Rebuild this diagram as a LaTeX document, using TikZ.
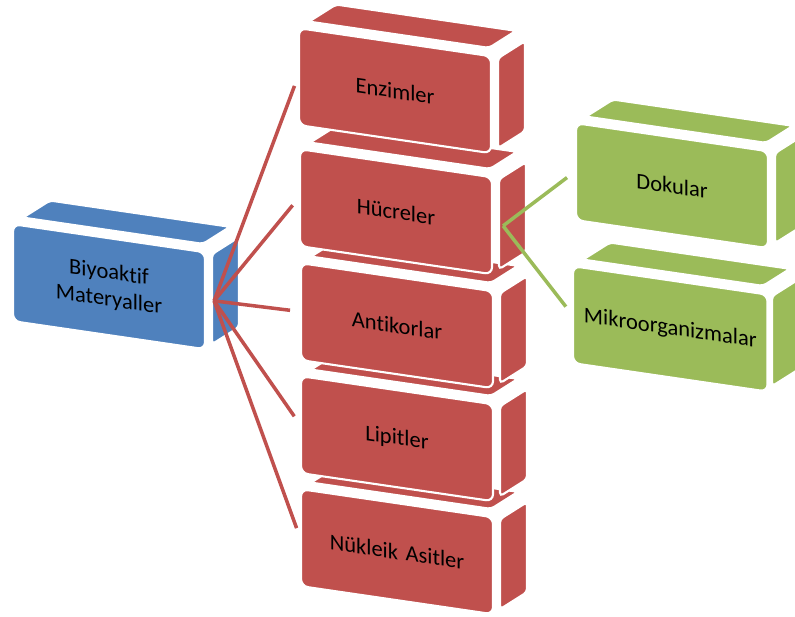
\documentclass[tikz,border=0pt]{standalone}
\usepackage{fontspec}
\setmainfont{Carlito}[Ligatures=NoCommon]
\usetikzlibrary{arrows}

\definecolor{bioblue}{HTML}{4F81BD}
\definecolor{brick}{HTML}{C0504D}
\definecolor{leaf}{HTML}{9BBB59}

\begin{document}
\begin{tikzpicture}[x=0.02cm, y=-0.02cm]
    \tikzstyle{every node}=[font=\fontsize{12.8}{15.5}\selectfont]
    \tikzstyle{front} = [rectangle, draw=white, line width=1.2pt, rounded corners=4pt, minimum width=3.84cm, minimum height=1.94cm, text width=3.6cm, text centered, inner sep=2pt, anchor=north west, transform shape]
    \tikzstyle{side}  = [draw=white, line width=1.2pt, rounded corners=2pt]
    \tikzstyle{line}  = [draw, line width=2pt, shorten >=0.2cm]

    \path [use as bounding box, clip] (0,0) rectangle (795,617);

    % Biyoaktif materyaller:
    \begin{scope}[shift={(12,223)}, yslant=-0.146]
      \path [side, fill=bioblue] (11,-7) -- (191,-7) -- (218,-28) -- (38,-28) -- cycle;
      \path [side, fill=bioblue] (200,2) -- (227,-19) -- (227,71) -- (200,92) -- cycle;
      \node [front, fill=bioblue] (bio) at (0,0) {Biyoaktif\\Materyaller};
    \end{scope}

    % Red column, drawn from the bottom up:
    \begin{scope}[shift={(300,488)}, yslant=-0.146]
      \path [side, fill=brick] (11,-7) -- (191,-7) -- (218,-28) -- (38,-28) -- cycle;
      \path [side, fill=brick] (200,2) -- (227,-19) -- (227,71) -- (200,92) -- cycle;
      \node [front, fill=brick] (nukleik) at (0,0) {Nükleik Asitler};
    \end{scope}
    \begin{scope}[shift={(300,375)}, yslant=-0.146]
      \path [side, fill=brick] (11,-7) -- (191,-7) -- (218,-28) -- (38,-28) -- cycle;
      \path [side, fill=brick] (200,2) -- (227,-19) -- (227,71) -- (200,92) -- cycle;
      \node [front, fill=brick] (lipit) at (0,0) {Lipitler};
    \end{scope}
    \begin{scope}[shift={(300,262)}, yslant=-0.146]
      \path [side, fill=brick] (11,-7) -- (191,-7) -- (218,-28) -- (38,-28) -- cycle;
      \path [side, fill=brick] (200,2) -- (227,-19) -- (227,71) -- (200,92) -- cycle;
      \node [front, fill=brick] (antikor) at (0,0) {Antikorlar};
    \end{scope}
    \begin{scope}[shift={(299,148)}, yslant=-0.146]
      \path [side, fill=brick] (11,-7) -- (191,-7) -- (218,-28) -- (38,-28) -- cycle;
      \path [side, fill=brick] (200,2) -- (227,-19) -- (227,71) -- (200,92) -- cycle;
      \node [front, fill=brick] (hucre) at (0,0) {Hücreler};
    \end{scope}
    \begin{scope}[shift={(298,27)}, yslant=-0.146]
      \path [side, fill=brick] (11,-7) -- (191,-7) -- (218,-28) -- (38,-28) -- cycle;
      \path [side, fill=brick] (200,2) -- (227,-19) -- (227,71) -- (200,92) -- cycle;
      \node [front, fill=brick] (enzim) at (0,0) {Enzimler};
    \end{scope}

    % Green pair:
    \begin{scope}[shift={(572,265)}, yslant=-0.146]
      \path [side, fill=leaf] (11,-7) -- (191,-7) -- (218,-28) -- (38,-28) -- cycle;
      \path [side, fill=leaf] (200,2) -- (227,-19) -- (227,71) -- (200,92) -- cycle;
      \node [front, fill=leaf, text width=3.75cm] (mikro) at (0,0) {Mikroorganizmalar};
    \end{scope}
    \begin{scope}[shift={(575,122)}, yslant=-0.146]
      \path [side, fill=leaf] (11,-7) -- (191,-7) -- (218,-28) -- (38,-28) -- cycle;
      \path [side, fill=leaf] (200,2) -- (227,-19) -- (227,71) -- (200,92) -- cycle;
      \node [front, fill=leaf] (doku) at (0,0) {Dokular};
    \end{scope}

    \path [line, brick] ([xshift=0.16cm]bio.east) -- (enzim.west);
    \path [line, brick] ([xshift=0.16cm]bio.east) -- (hucre.west);
    \path [line, brick] ([xshift=0.16cm]bio.east) -- (antikor.west);
    \path [line, brick] ([xshift=0.16cm]bio.east) -- (lipit.west);
    \path [line, brick] ([xshift=0.16cm]bio.east) -- (nukleik.west);

    \path [line, leaf] ([xshift=0.2cm]hucre.east) -- (doku.west);
    \path [line, leaf] ([xshift=0.2cm]hucre.east) -- (mikro.west);
\end{tikzpicture}
\end{document}
